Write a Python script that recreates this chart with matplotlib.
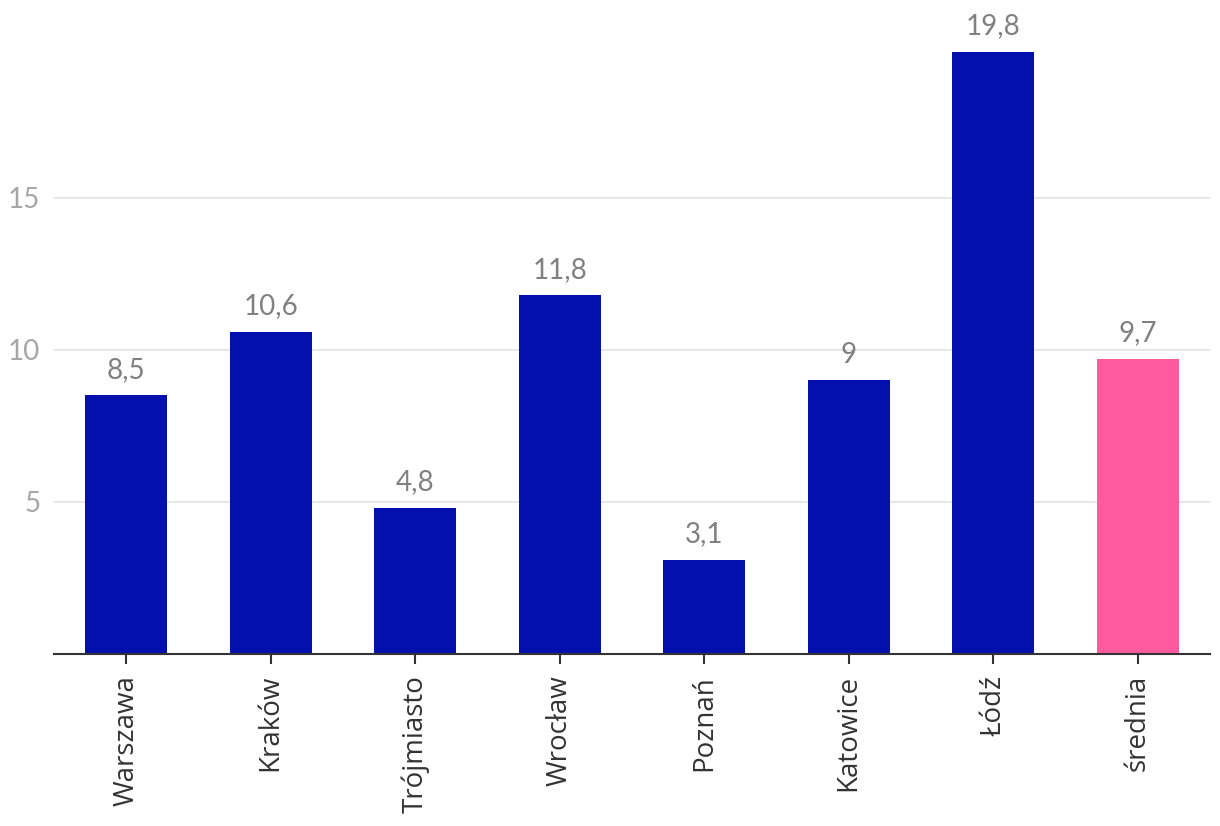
import matplotlib
matplotlib.use("Agg")
import matplotlib.pyplot as plt

categories = ["Warszawa", "Kraków", "Trójmiasto", "Wrocław", "Poznań", "Katowice", "Łódź", "średnia"]
values = [8.5, 10.6, 4.8, 11.8, 3.1, 9.0, 19.8, 9.7]
value_labels = ["8,5", "10,6", "4,8", "11,8", "3,1", "9", "19,8", "9,7"]
yticks = [5, 10, 15]

colors = ["#0310AD"] * 7 + ["#FF5A9D"]

fig = plt.figure(figsize=(12.2, 8.26), dpi=100)
ax = fig.add_axes([54 / 1220, (826 - 654) / 826, (1210 - 54) / 1220, 654 / 826])

x = list(range(len(categories)))
ax.bar(x, values, width=0.565, color=colors, zorder=3)

for xi, v, lab in zip(x, values, value_labels):
    ax.annotate(lab, (xi, v), xytext=(0, 9), textcoords="offset points",
                ha="center", va="bottom", fontsize=20, color="#808080", family="Lato")

ax.set_xlim(-0.5, 7.5)
ax.set_ylim(0, 21.5)
ax.set_yticks(yticks)
ax.set_yticklabels([str(t) for t in yticks], family="Lato", fontsize=20, color="#a6a6a6")
ax.set_xticks(x)
ax.set_xticklabels(categories, rotation=90, family="Open Sans", fontsize=20, color="#333333")
ax.tick_params(axis="x", length=7, width=1.5, color="#333333", pad=8)
ax.tick_params(axis="y", length=0, pad=10)
ax.grid(axis="y", color="#e3e3e3", linewidth=1.2, zorder=0)
for s in ["top", "right", "left"]:
    ax.spines[s].set_visible(False)
ax.spines["bottom"].set_color("#333333")
ax.spines["bottom"].set_linewidth(1.5)
ax.spines["bottom"].set_zorder(4)

fig.savefig("out.png", dpi=100)
